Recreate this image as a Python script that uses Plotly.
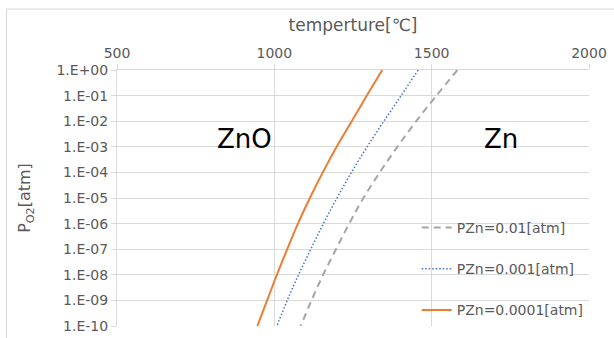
import plotly.graph_objects as go

# P_O2 exponents (decades) at which temperatures were read
po2_exp = [0, -1, -2, -3, -4, -5, -6, -7, -8, -9, -10]
po2 = [10.0 ** e for e in po2_exp]

# temperature [C] for each curve
t_pzn_001 = [1582, 1515, 1451, 1391, 1335, 1283, 1238, 1196, 1155, 1118, 1084]
t_pzn_0001 = [1457, 1403, 1348, 1295, 1245, 1199, 1156, 1116, 1077, 1041, 1008]
t_pzn_00001 = [1343, 1294, 1246, 1198, 1154, 1113, 1075, 1041, 1008, 977, 946]

series_names = ["PZn=0.01[atm]", "PZn=0.001[atm]", "PZn=0.0001[atm]"]
x_ticks = [500, 1000, 1500, 2000]
y_tickvals = po2
y_ticktext = ["1.E+00", "1.E-01", "1.E-02", "1.E-03", "1.E-04", "1.E-05",
              "1.E-06", "1.E-07", "1.E-08", "1.E-09", "1.E-10"]

FONT = "DejaVu Sans"
GRAY_TXT = "#595959"
GRID = "#d9d9d9"

fig = go.Figure()
fig.add_trace(go.Scatter(x=t_pzn_001, y=po2, mode="lines", name=series_names[0],
                         legendgroup="a",
                         line=dict(color="#a5a5a5", width=2, dash="7px,5px", shape="spline")))
fig.add_trace(go.Scatter(x=t_pzn_0001, y=po2, mode="lines", name=series_names[1],
                         legendgroup="b",
                         line=dict(color="#4472c4", width=1.5, dash="1.5px,2px", shape="spline")))
fig.add_trace(go.Scatter(x=t_pzn_00001, y=po2, mode="lines", name=series_names[2],
                         legendgroup="c",
                         line=dict(color="#ed7d31", width=2, shape="spline")))

fig.update_layout(
    width=614, height=338,
    margin=dict(l=117, r=25, t=70, b=12),
    paper_bgcolor="white", plot_bgcolor="white",
    font=dict(family=FONT, color=GRAY_TXT, size=14),
    showlegend=True,
    legend=dict(x=0.635, y=0.0, xanchor="left", yanchor="bottom",
                bgcolor="rgba(0,0,0,0)", tracegroupgap=20,
                font=dict(family=FONT, size=14, color=GRAY_TXT)),
    xaxis=dict(side="top", range=[500, 2000], tickvals=x_ticks, automargin=False,
               showgrid=True, gridcolor=GRID, gridwidth=1,
               showline=True, linecolor=GRID, mirror=False,
               ticks="outside", ticklen=5, tickcolor=GRID,
               zeroline=False,
               tickfont=dict(family=FONT, size=14, color=GRAY_TXT),
               title=dict(text="temperture[℃]", font=dict(family=FONT, size=17, color=GRAY_TXT), standoff=9)),
    yaxis=dict(type="log", range=[-10, 0], tickvals=y_tickvals, ticktext=y_ticktext, automargin=False,
               showgrid=True, gridcolor=GRID, gridwidth=1,
               showline=True, linecolor=GRID,
               ticks="outside", ticklen=5, tickcolor=GRID,
               zeroline=False,
               tickfont=dict(family=FONT, size=14, color=GRAY_TXT),
               title=dict(text="P<sub>O2</sub>[atm]", font=dict(family=FONT, size=16, color=GRAY_TXT), standoff=21)),
)

fig.add_annotation(x=904, y=-2.68, xref="x", yref="y", text="ZnO", showarrow=False,
                   xanchor="center", yanchor="middle",
                   font=dict(family=FONT, size=26, color="black"))
fig.add_annotation(x=1720, y=-2.68, xref="x", yref="y", text="Zn", showarrow=False,
                   xanchor="center", yanchor="middle",
                   font=dict(family=FONT, size=26, color="black"))

# outer chart border
fig.add_shape(type="rect", xref="paper", yref="paper",
              x0=-0.234, x1=1.2, y0=-0.2, y1=1.238,
              line=dict(color="#d9d9d9", width=1), fillcolor="rgba(0,0,0,0)", layer="below")

fig.write_html("out.html", config={"displayModeBar": False},
               post_script="document.body.style.margin='0';")
